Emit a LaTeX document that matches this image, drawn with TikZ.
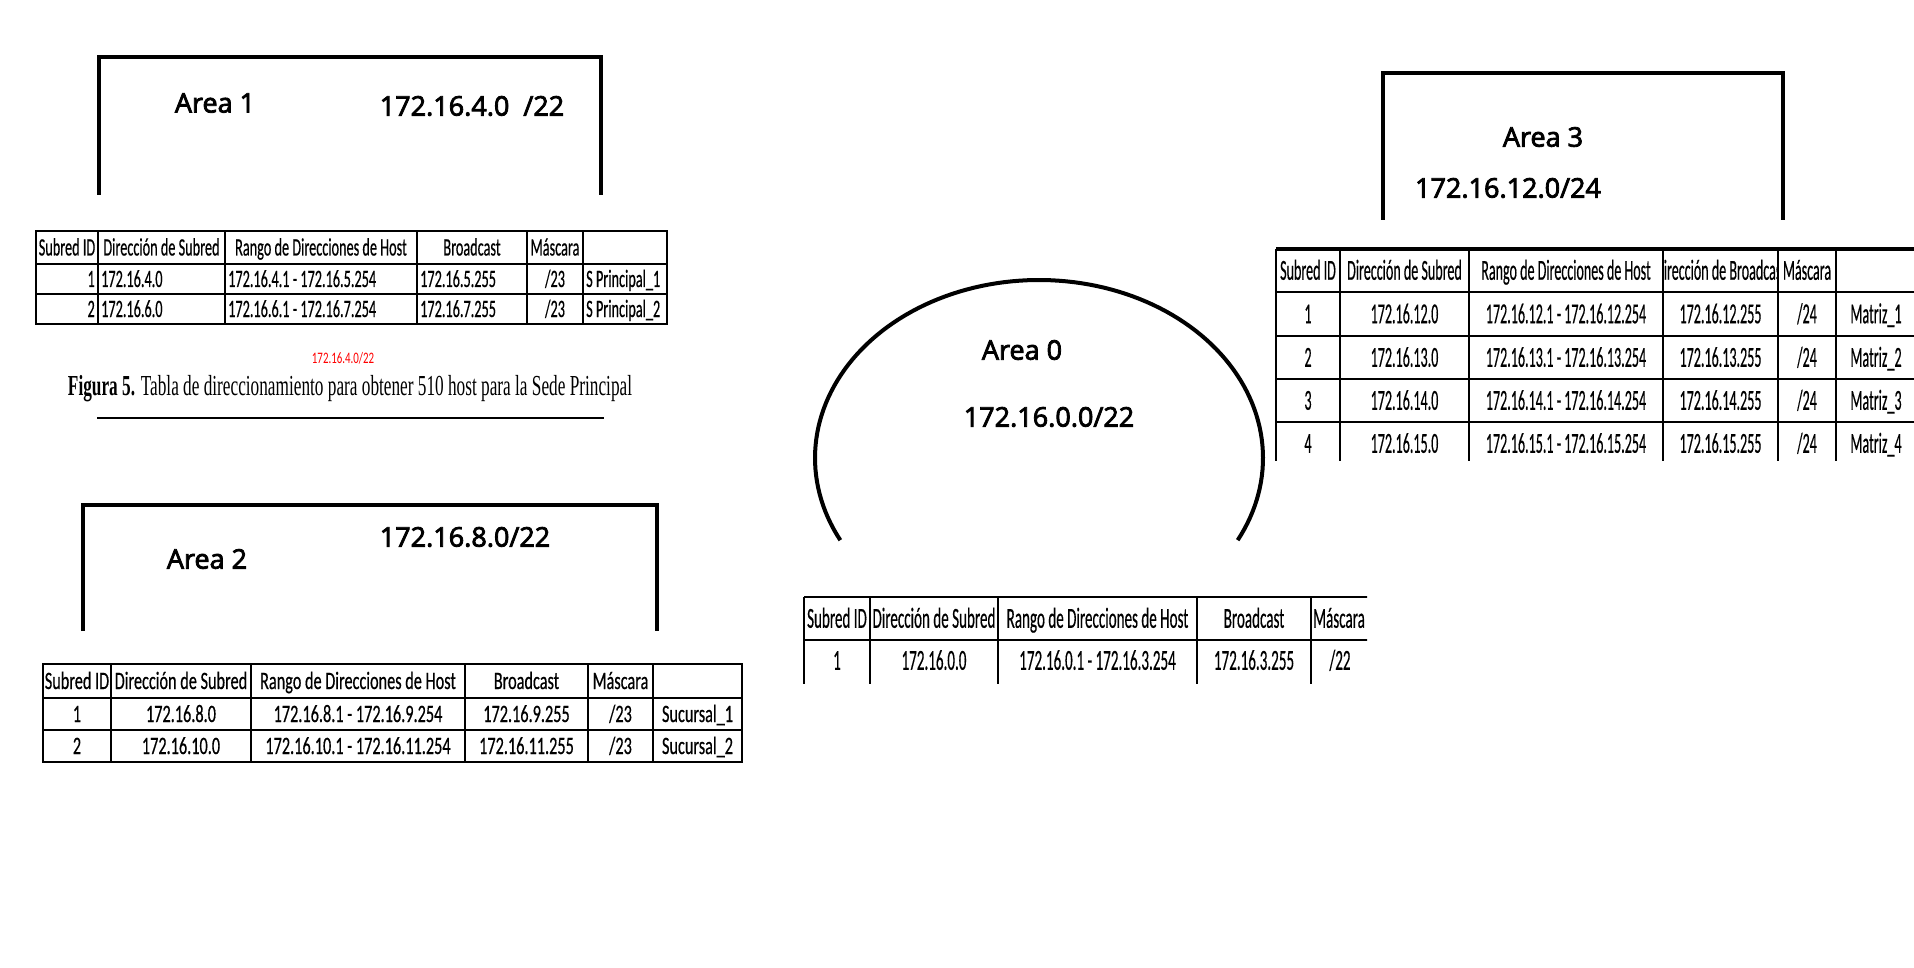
\documentclass[tikz,border=0pt]{standalone}
\usepackage{fontspec}
\usepackage{graphicx}
\setmainfont{Liberation Serif}
\newfontfamily\areafont[FakeBold=3]{Open Sans}
\newfontfamily\cellfont[FakeBold=0.6]{Carlito}
\newfontfamily\markfont{Carlito}
\usetikzlibrary{calc}
\newcommand{\narrow}[2][0.57]{\scalebox{#1}[1]{#2}}
\tikzset{
  areaframe/.style={draw=black, line width=4.5pt, line join=miter},
  arealabel/.style={font=\areafont\fontsize{27}{27}\selectfont, inner sep=0pt},
  tabouter/.style={draw=black, line width=2.8pt},
  tabrule/.style={draw=black, line width=1.8pt},
  cell/.style={font=\cellfont\fontsize{25}{25}\selectfont,
    inner sep=0pt, text height=16pt, text depth=0pt},
  bigcell/.style={cell, font=\cellfont\fontsize{29}{29}\selectfont,
    text height=18.5pt},
}

\begin{document}
\begin{tikzpicture}[x=1pt, y=-1pt]
\useasboundingbox (0,0) rectangle (1914,968);

% Area 1
\draw[areaframe] (99,195) |- (601,57) -- (601,195);
\node[arealabel] (area1) at (215,103) {Area 1};
\node[arealabel] (net1) at (472,106) {172.16.4.0\ \ /22};

\draw[tabouter] (36,231) rectangle (667,324);
\draw[tabouter] (36,264) -- (667,264);
\draw[tabrule] (36,294) -- (667,294);
\foreach \x in {98,225,417,527,583}
  \draw[tabrule] (\x,231) -- (\x,324);
\node[cell] (t1-id) at (67,247.5) {\narrow{Subred ID}};
\node[cell] (t1-net) at (161.5,247.5) {\narrow{Dirección de Subred}};
\node[cell] (t1-range) at (321,247.5) {\narrow{Rango de Direcciones de Host}};
\node[cell] (t1-bc) at (472,247.5) {\narrow{Broadcast}};
\node[cell] (t1-mask) at (555,247.5) {\narrow{Máscara}};
\foreach \n/\y/\net/\rng/\bc in {1/279/172.16.4.0/172.16.4.1 - 172.16.5.254/172.16.5.255,
    2/309/172.16.6.0/172.16.6.1 - 172.16.7.254/172.16.7.255}{
  \node[cell, anchor=east] (t1-id\n) at (95,\y) {\narrow{\n}};
  \node[cell, anchor=west] (t1-net\n) at (101,\y) {\narrow{\net}};
  \node[cell, anchor=west] (t1-range\n) at (228,\y) {\narrow{\rng}};
  \node[cell, anchor=west] (t1-bc\n) at (420,\y) {\narrow{\bc}};
  \node[cell] (t1-mask\n) at (555,\y) {\narrow{/23}};
  \node[cell, anchor=west] (t1-name\n) at (586,\y) {\narrow{S Principal\_\n}};
}

\node[cell, font=\markfont\fontsize{16}{16}\selectfont, text height=10pt, text=red]
  (mark) at (343,358) {\narrow[0.68]{172.16.4.0/22}};
\node[inner sep=0pt, font=\fontsize{29}{29}\selectfont] (caption) at (350,389)
  {\resizebox{564pt}{\height}{\textbf{Figura 5.} Tabla de direccionamiento para obtener 510 host para la Sede Principal}};
\draw[line width=2pt] (97,418) -- (604,418);

% Area 2
\draw[areaframe] (83,631) |- (657,505) -- (657,631);
\node[arealabel] (area2) at (207,559) {Area 2};
\node[arealabel] (net2) at (465,537) {172.16.8.0/22};

\draw[tabouter] (43,664) rectangle (742,762);
\draw[tabouter] (43,698) -- (742,698);
\draw[tabrule] (43,730) -- (742,730);
\foreach \x in {111,251,465,588,653}
  \draw[tabrule] (\x,664) -- (\x,762);
\node[cell] (t2-id) at (77,681) {\narrow[0.65]{Subred ID}};
\node[cell] (t2-net) at (181,681) {\narrow[0.65]{Dirección de Subred}};
\node[cell] (t2-range) at (358,681) {\narrow[0.65]{Rango de Direcciones de Host}};
\node[cell] (t2-bc) at (526.5,681) {\narrow[0.65]{Broadcast}};
\node[cell] (t2-mask) at (620.5,681) {\narrow[0.65]{Máscara}};
\foreach \n/\y/\net/\rng/\bc in {1/714/172.16.8.0/172.16.8.1 - 172.16.9.254/172.16.9.255,
    2/746/172.16.10.0/172.16.10.1 - 172.16.11.254/172.16.11.255}{
  \node[cell] (t2-id\n) at (77,\y) {\narrow[0.65]{\n}};
  \node[cell] (t2-net\n) at (181,\y) {\narrow[0.65]{\net}};
  \node[cell] (t2-range\n) at (358,\y) {\narrow[0.65]{\rng}};
  \node[cell] (t2-bc\n) at (526.5,\y) {\narrow[0.65]{\bc}};
  \node[cell] (t2-mask\n) at (620.5,\y) {\narrow[0.65]{/23}};
  \node[cell] (t2-name\n) at (697.5,\y) {\narrow[0.65]{Sucursal\_\n}};
}

% Area 0
\coordinate (a0) at (1039,458);
\draw[line width=4pt] plot[domain=152.5:387.5, samples=120]
  ({1039+224*cos(\x)}, {458+178*sin(\x)});
\node[arealabel] (area0) at (1022,350) {Area 0};
\node[arealabel] (net0) at (1049,417) {172.16.0.0/22};

\begin{scope}
\clip (798,588) rectangle (1367,683);
\draw[tabouter] (804,597) -- (1400,597);
\draw[tabouter] (804,640) -- (1400,640);
\foreach \x in {804,870,998,1197,1311}
  \draw[tabrule] (\x,597) -- (\x,700);
\node[bigcell] (t0-id) at (837,618.5) {\narrow[0.52]{Subred ID}};
\node[bigcell] (t0-net) at (934,618.5) {\narrow[0.52]{Dirección de Subred}};
\node[bigcell] (t0-range) at (1097.5,618.5) {\narrow[0.52]{Rango de Direcciones de Host}};
\node[bigcell] (t0-bc) at (1254,618.5) {\narrow[0.52]{Broadcast}};
\node[bigcell, anchor=west] (t0-mask) at (1313,618.5) {\narrow[0.52]{Máscara}};
\node[bigcell] (t0-id1) at (837,660.5) {\narrow[0.52]{1}};
\node[bigcell] (t0-net1) at (934,660.5) {\narrow[0.52]{172.16.0.0}};
\node[bigcell] (t0-range1) at (1097.5,660.5) {\narrow[0.52]{172.16.0.1 - 172.16.3.254}};
\node[bigcell] (t0-bc1) at (1254,660.5) {\narrow[0.52]{172.16.3.255}};
\node[bigcell] (t0-mask1) at (1340,660.5) {\narrow[0.52]{/22}};
\end{scope}

% Area 3
\draw[areaframe] (1383,220) |- (1783,73) -- (1783,220);
\node[arealabel] (area3) at (1543,137) {Area 3};
\node[arealabel] (net3) at (1508,188) {172.16.12.0/24};

\begin{scope}
\clip (1270,240) rectangle (1914,460);
\draw[tabouter, line width=3.6pt] (1276,249) -- (1914,249);
\draw[tabouter] (1276,292) -- (1914,292);
\foreach \yy in {336,379,422}
  \draw[tabrule] (1276,\yy) -- (1914,\yy);
\foreach \x in {1276,1340,1469,1663,1778,1836}
  \draw[tabrule] (\x,249) -- (\x,470);
\node[bigcell] (t3-id) at (1308,270.5) {\narrow[0.485]{Subred ID}};
\node[bigcell] (t3-net) at (1404.5,270.5) {\narrow[0.485]{Dirección de Subred}};
\node[bigcell] (t3-range) at (1566,270.5) {\narrow[0.485]{Rango de Direcciones de Host}};
\begin{scope}
\clip (1664,250) rectangle (1777,291);
\node[bigcell] (t3-bc) at (1720.5,270.5) {\narrow[0.485]{Dirección de Broadcast}};
\end{scope}
\node[bigcell] (t3-mask) at (1807,270.5) {\narrow[0.485]{Máscara}};
\foreach \n/\y in {1/314, 2/357.5, 3/400.5, 4/443.5}{
  \node[bigcell] (t3-id\n) at (1308,\y) {\narrow[0.485]{\n}};
  \node[bigcell] (t3-net\n) at (1404.5,\y) {\narrow[0.485]{172.16.\number\numexpr11+\n\relax.0}};
  \node[bigcell] (t3-range\n) at (1566,\y)
    {\narrow[0.485]{172.16.\number\numexpr11+\n\relax.1 - 172.16.\number\numexpr11+\n\relax.254}};
  \node[bigcell] (t3-bc\n) at (1720.5,\y) {\narrow[0.485]{172.16.\number\numexpr11+\n\relax.255}};
  \node[bigcell] (t3-mask\n) at (1807,\y) {\narrow[0.485]{/24}};
  \node[bigcell] (t3-name\n) at (1876,\y) {\narrow[0.485]{Matriz\_\n}};
}
\end{scope}

\end{tikzpicture}
\end{document}
